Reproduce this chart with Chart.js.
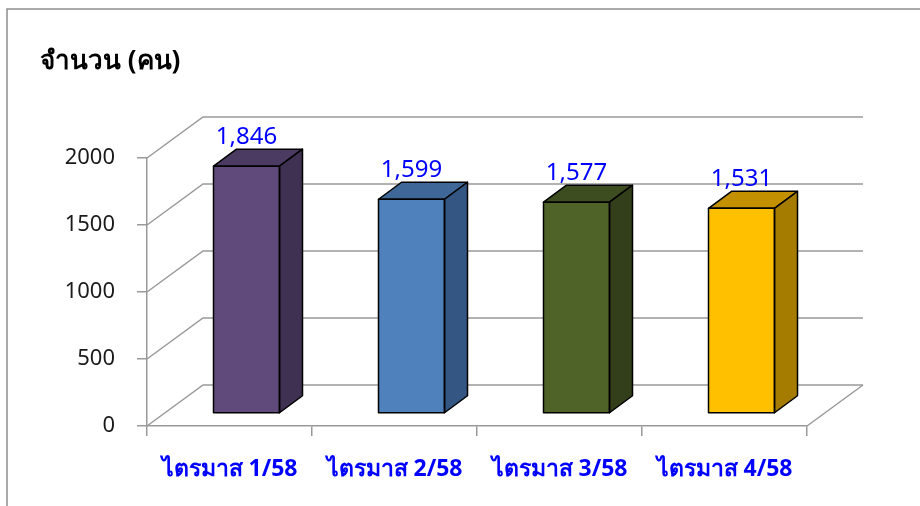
<!DOCTYPE html>
<html>
<head>
<meta charset="utf-8">
<script src="https://cdn.jsdelivr.net/npm/chart.js@4/dist/chart.umd.min.js"></script>
<style>
html, body { margin: 0; padding: 0; background: #fff; }
#wrap { width: 920px; height: 506px; position: relative; }
</style>
</head>
<body>
<div id="wrap"><canvas id="chart" width="920" height="506"></canvas></div>
<script>
// data
var quarters = ['ไตรมาส 1/58', 'ไตรมาส 2/58', 'ไตรมาส 3/58', 'ไตรมาส 4/58'];
var people = [1846, 1599, 1577, 1531];
var yMax = 2000, yStep = 500;

var frontColors = ['#604a7b', '#4f81bd', '#4f6228', '#ffc000'];
var sideColors  = ['#3f3151', '#345682', '#333f1a', '#a67c00'];
var topColors   = ['#4b3a62', '#3f6898', '#3e4d20', '#c39100'];

// fake 3d: back wall offset, where the bars sit in depth and how deep they are
var wall = { dx: 56, dy: -41 };
var barShift = { dx: 17, dy: -12.5 };
var barDepth = { dx: 23, dy: -17 };
var lineGray = '#999999';

Chart.defaults.font.family = '"Noto Sans", sans-serif';

var walls = {
    id: 'walls',
    beforeDraw: function (chart) {
        // outer frame of the chart object
        var ctx = chart.ctx;
        ctx.save();
        ctx.strokeStyle = '#8f8f8f';
        ctx.lineWidth = 1.5;
        ctx.beginPath();
        ctx.moveTo(7, 520);
        ctx.lineTo(7, 9);
        ctx.lineTo(930, 9);
        ctx.stroke();
        ctx.restore();
    },
    beforeDatasetsDraw: function (chart) {
        var ctx = chart.ctx, y = chart.scales.y, a = chart.chartArea;
        ctx.save();
        ctx.strokeStyle = lineGray;
        ctx.lineWidth = 1.5;
        y.ticks.forEach(function (t) {
            var py = y.getPixelForValue(t.value);
            ctx.beginPath();
            ctx.moveTo(a.left, py);
            ctx.lineTo(a.left + wall.dx, py + wall.dy);
            ctx.lineTo(a.right + wall.dx, py + wall.dy);
            ctx.stroke();
        });
        var p0 = y.getPixelForValue(0);
        ctx.beginPath();
        ctx.moveTo(a.right, p0);
        ctx.lineTo(a.right + wall.dx, p0 + wall.dy);
        ctx.stroke();
        ctx.restore();

        // push the bars back onto the floor, restored after they are drawn
        ctx.save();
        ctx.translate(barShift.dx, barShift.dy);
    },
    afterDatasetsDraw: function (chart) {
        var ctx = chart.ctx;
        var bars = chart.getDatasetMeta(0).data;
        ctx.lineWidth = 1.5;
        ctx.lineJoin = 'round';
        ctx.strokeStyle = '#000';
        bars.forEach(function (bar, i) {
            var l = bar.x - bar.width / 2, r = bar.x + bar.width / 2;
            var t = bar.y, b = bar.base;
            // top face
            ctx.beginPath();
            ctx.moveTo(l, t);
            ctx.lineTo(l + barDepth.dx, t + barDepth.dy);
            ctx.lineTo(r + barDepth.dx, t + barDepth.dy);
            ctx.lineTo(r, t);
            ctx.closePath();
            ctx.fillStyle = topColors[i];
            ctx.fill();
            ctx.stroke();
            // side face
            ctx.beginPath();
            ctx.moveTo(r, t);
            ctx.lineTo(r + barDepth.dx, t + barDepth.dy);
            ctx.lineTo(r + barDepth.dx, b + barDepth.dy);
            ctx.lineTo(r, b);
            ctx.closePath();
            ctx.fillStyle = sideColors[i];
            ctx.fill();
            ctx.stroke();
            // front outline
            ctx.strokeRect(l, t, r - l, b - t);
        });
        ctx.restore();

        // value labels
        ctx.save();
        ctx.fillStyle = '#0000ff';
        ctx.font = '24px "Noto Sans", sans-serif';
        ctx.textAlign = 'center';
        ctx.textBaseline = 'middle';
        bars.forEach(function (bar, i) {
            ctx.fillText(people[i].toLocaleString('en-US'),
                bar.x + barShift.dx, bar.y + barShift.dy - 29);
        });
        ctx.restore();
    }
};

var chart = new Chart(document.getElementById('chart'), {
    type: 'bar',
    data: {
        labels: quarters,
        datasets: [{
            data: people,
            backgroundColor: frontColors,
            borderWidth: 0,
            barPercentage: 0.4,
            categoryPercentage: 1.0,
            clip: false
        }]
    },
    options: {
        responsive: false,
        animation: false,
        layout: { padding: { left: 40, right: 113, top: 0, bottom: 0 } },
        plugins: {
            legend: { display: false },
            tooltip: { enabled: false },
            title: {
                display: true,
                text: 'จำนวน (คน)',
                align: 'start',
                color: '#000',
                font: { size: 26, weight: 'bold', lineHeight: '24px' },
                padding: { top: 50, bottom: 84 }
            }
        },
        scales: {
            x: {
                grid: { drawOnChartArea: false, offset: true, tickLength: 10, color: lineGray, lineWidth: 1.5 },
                border: { color: lineGray, width: 1.5 },
                ticks: { color: '#0000ff', padding: 21, font: { size: 23, weight: 'bold', lineHeight: '24px' } },
                afterFit: function (s) { s.height = 80; }
            },
            y: {
                min: 0,
                max: yMax,
                grid: { drawOnChartArea: false, tickLength: 10, color: lineGray, lineWidth: 1.5 },
                border: { color: lineGray, width: 1.5 },
                ticks: {
                    stepSize: yStep, color: '#1a1a1a', padding: 22, font: { size: 22 },
                    callback: function (v) { return String(v); }
                },
                afterFit: function (s) { s.width = 107; }
            }
        }
    },
    plugins: [walls]
});
</script>
</body>
</html>
